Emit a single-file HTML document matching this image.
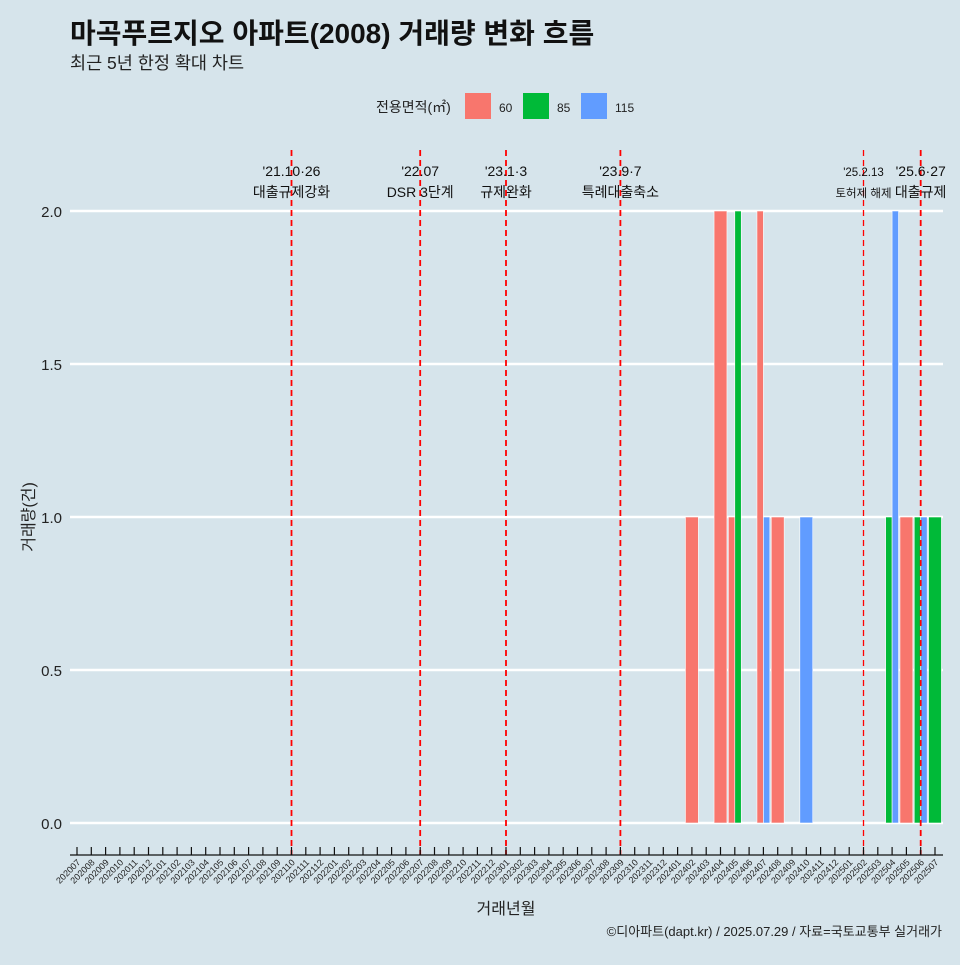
<!DOCTYPE html>
<html><head><meta charset="utf-8"><style>
body{margin:0;background:#d6e4eb;}
svg text{font-family:"Liberation Sans","Noto Sans CJK KR",sans-serif;}
</style></head><body>
<svg id="c" width="960" height="960" xmlns="http://www.w3.org/2000/svg">
<rect width="960" height="960" fill="#d6e4eb"/>
<text x="70" y="43" font-size="28" font-weight="bold" fill="#111">마곡푸르지오 아파트(2008) 거래량 변화 흐름</text>
<text x="70" y="69" font-size="17.5" fill="#222">최근 5년 한정 확대 차트</text>
<g>
<text x="376" y="112" font-size="14" fill="#222">전용면적(㎡)</text>
<rect x="465" y="93" width="26" height="26" fill="#f8766d"/>
<text x="499" y="112" font-size="12" fill="#222">60</text>
<rect x="523" y="93" width="26" height="26" fill="#00ba38"/>
<text x="557" y="112" font-size="12" fill="#222">85</text>
<rect x="581" y="93" width="26" height="26" fill="#619cff"/>
<text x="615" y="112" font-size="12" fill="#222">115</text>
</g>
<g id="grid"></g><g id="bars"></g><g id="events"></g><g id="xaxis"></g>
<text transform="translate(34,517) rotate(-90)" text-anchor="middle" font-size="16" fill="#222">거래량(건)</text>
<text x="506" y="914" text-anchor="middle" font-size="16" fill="#222">거래년월</text>
<text x="942" y="936" text-anchor="end" font-size="13" fill="#222">©디아파트(dapt.kr) / 2025.07.29 / 자료=국토교통부 실거래가</text>
</svg>
<script>
const yTicks=[0,0.5,1,1.5,2];
const yTickLabels=["0.0","0.5","1.0","1.5","2.0"];
const series=["60","85","115"];
const barMonths=["202402","202404","202405","202405","202407","202407","202408","202410","202504","202504","202505","202506","202506","202507"];
const barSeries=["60","60","60","85","60","115","60","115","85","115","60","85","115","85"];
const barValues=[1,2,1,2,2,1,1,1,1,2,1,1,1,1];
const eventMonths=["202110","202207","202301","202309","202502","202506"];
const eventLine1=["'21.10·26","'22.07","'23.1·3","'23.9·7","'25.2.13","'25.6·27"];
const eventLine2=["대출규제강화","DSR 3단계","규제완화","특례대출축소","토허제 해제","대출규제"];
const colors={"60":"#f8766d","85":"#00ba38","115":"#619cff"};
const months=[];for(let y=2020;y<=2025;y++)for(let m=1;m<=12;m++){const k=y*100+m;if(k>=202007&&k<=202507)months.push(String(k));}
const NS="http://www.w3.org/2000/svg";
const x=i=>77+i*14.3, y=v=>823-v*306, bw=12.9;
function mk(t,a,p){const e=document.createElementNS(NS,t);for(const k in a)e.setAttribute(k,a[k]);p.appendChild(e);return e;}
const G=document.getElementById('grid'),B=document.getElementById('bars'),E=document.getElementById('events'),X=document.getElementById('xaxis');
yTicks.forEach((t,i)=>{
 const l=mk('line',{x1:70,x2:943,y1:y(t),y2:y(t),stroke:'#fff','stroke-width':2.5},G);
 
 
 const tx=mk('text',{x:62,y:y(t)+6,'text-anchor':'end','font-size':15,fill:'#222'},G);
 tx.textContent=yTickLabels[i];
 
 
});
barMonths.forEach((m,i)=>{
 const idx=months.indexOf(m);
 const grp=[];barMonths.forEach((mm,j)=>{if(mm===m)grp.push(j);});
 grp.sort((a,b)=>series.indexOf(barSeries[a])-series.indexOf(barSeries[b]));
 const n=grp.length,pos=grp.indexOf(i),w=bw/n;
 const r=mk('rect',{x:x(idx)-bw/2+pos*w,y:y(barValues[i]),width:w,height:y(0)-y(barValues[i]),fill:colors[barSeries[i]],stroke:'#fff','stroke-width':0.6},B);
 
 
});
eventMonths.forEach((m,i)=>{
 const xx=x(months.indexOf(m));const thin=(i===4);
 const l=mk('line',{x1:xx,x2:xx,y1:150,y2:855,stroke:'#ff0000','stroke-width':thin?1.3:1.8,'stroke-dasharray':'6,4'},E);
 
 
 const fs=thin?11.5:14;
 const t1=mk('text',{x:xx,y:176,'text-anchor':'middle','font-size':fs,fill:'#111'},E);t1.textContent=eventLine1[i];
 
 
 const t2=mk('text',{x:xx,y:197,'text-anchor':'middle','font-size':fs,fill:'#111'},E);t2.textContent=eventLine2[i];
 
 
});
const al=mk('line',{x1:70,x2:943,y1:855,y2:855,stroke:'#111','stroke-width':1.2},X);


months.forEach((m,i)=>{
 const t=mk('line',{x1:x(i),x2:x(i),y1:847,y2:855,stroke:'#111','stroke-width':1.2},X);
 
 
 const tx=mk('text',{transform:`translate(${x(i)+4},${863}) rotate(-45)`,'text-anchor':'end','font-size':9,fill:'#222'},X);
 tx.textContent=m;
 
 
});
</script>
</body></html>
